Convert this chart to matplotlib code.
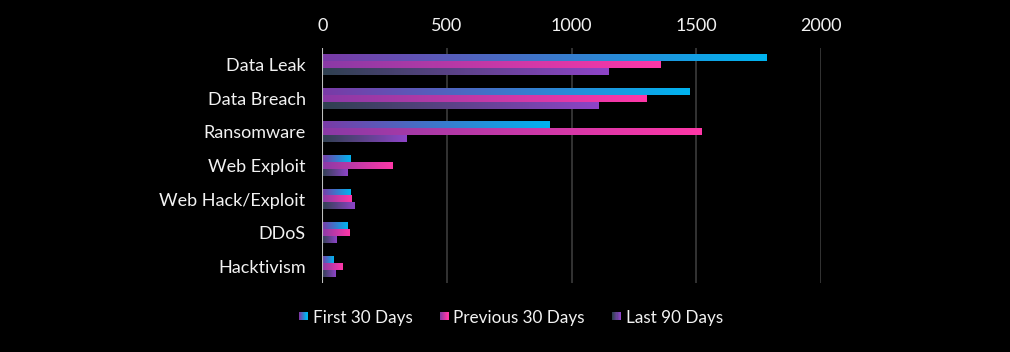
import numpy as np
import matplotlib.pyplot as plt
from matplotlib.colors import LinearSegmentedColormap
from matplotlib.patches import Rectangle
from matplotlib.legend_handler import HandlerPatch

categories = ["Data Leak", "Data Breach", "Ransomware", "Web Exploit",
              "Web Hack/Exploit", "DDoS", "Hacktivism"]
first_30 = [1783, 1475, 912, 115, 115, 103, 47]
previous_30 = [1357, 1301, 1520, 283, 120, 110, 82]
last_90 = [1149, 1109, 339, 103, 131, 59, 53]
series_names = ["First 30 Days", "Previous 30 Days", "Last 90 Days"]

# gradient start/end colours for each series
grads = [("#7a3aa6", "#00b4f0"), ("#8a3aa6", "#ff37a8"), ("#2f4050", "#8e44c8")]

plt.rcParams["font.family"] = ["Lato", "DejaVu Sans"]
text_col = "#f2f2f2"

fig = plt.figure(figsize=(10.1, 3.52), dpi=100, facecolor="black")
ax = fig.add_axes([0.319, 0.196, 0.494, 0.668], facecolor="black")

y = np.arange(len(categories))
h = 0.205
all_vals = [first_30, previous_30, last_90]
grad = np.linspace(0, 1, 256).reshape(1, -1)

handles = []
for i, (vals, (c0, c1)) in enumerate(zip(all_vals, grads)):
    cmap = LinearSegmentedColormap.from_list(f"g{i}", [c0, c1])
    bars = ax.barh(y + (i - 1) * h, vals, height=h, color="none", edgecolor="none")
    for b in bars:
        x0, y0 = b.get_x(), b.get_y()
        w, hh = b.get_width(), b.get_height()
        ax.imshow(grad, cmap=cmap, aspect="auto", interpolation="bilinear",
                  extent=(x0, x0 + w, y0 + hh, y0), zorder=2)
    handles.append(Rectangle((0, 0), 1, 1, label=series_names[i]))
    handles[-1].cmap = cmap


class GradHandler(HandlerPatch):
    def create_artists(self, legend, orig_handle, xdescent, ydescent,
                       width, height, fontsize, trans):
        n = 8
        size = height * 0.7
        x0 = width - size - xdescent
        y0 = -ydescent + (height - size) / 2 + 1
        arts = []
        for k in range(n):
            r = Rectangle((x0 + k * size / n, y0), size / n + 0.3, size,
                          facecolor=orig_handle.cmap(k / (n - 1)), edgecolor="none",
                          transform=trans)
            arts.append(r)
        return arts


ax.set_xlim(0, 2000)
ax.set_ylim(len(categories) - 0.5, -0.5)
ax.set_yticks(y)
ax.set_yticklabels(categories)
ax.set_xticks([0, 500, 1000, 1500, 2000])
ax.xaxis.tick_top()
ax.tick_params(axis="both", length=0, colors=text_col, labelsize=13)
ax.tick_params(axis="x", pad=10)
ax.tick_params(axis="y", pad=12)
ax.grid(axis="x", color="#3c3c3c", linewidth=1.2, zorder=0)
ax.set_axisbelow(True)
for s in ax.spines.values():
    s.set_visible(False)
ax.axvline(0, color="#bfbfbf", linewidth=1.5, zorder=3)

leg = fig.legend(handles=handles, loc="lower center", ncol=3,
                 bbox_to_anchor=(0.505, 0.03), frameon=False,
                 handler_map={Rectangle: GradHandler()},
                 fontsize=12.3, handlelength=0.6, handletextpad=0.3,
                 columnspacing=1.5)
for t in leg.get_texts():
    t.set_color(text_col)

fig.savefig("out.png", dpi=100, facecolor="black")
